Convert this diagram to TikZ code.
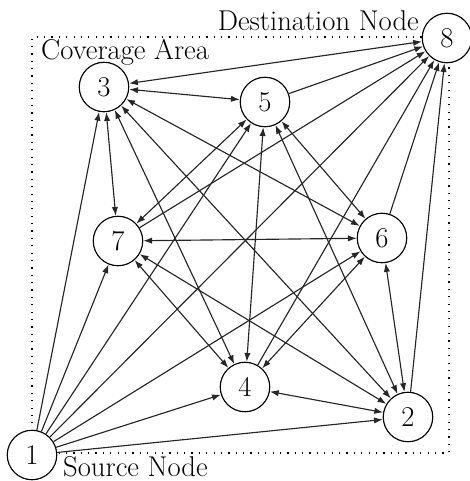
\documentclass[tikz,border=0pt]{standalone}
\usepackage{tikz}
\usetikzlibrary{arrows.meta}
\usetikzlibrary{backgrounds}
\def \NodeSize{0.99cm}
\def \EdgeWidth{0.65pt}

\begin{document}
\begin{tikzpicture}
[x=0.02cm,y=-0.02cm,>={Latex[length=5pt,width=3.6pt]},
 font=\fontsize{16.3pt}{19pt}\selectfont,
 netnode/.style={circle,draw,line width=0.65pt,fill=white,minimum size=\NodeSize,inner sep=0pt},
 link/.style={line width=\EdgeWidth,draw=black!85},
 area/.style={line width=0.7pt,dash pattern=on 0.7pt off 3.5pt}]
	\useasboundingbox (0,0) rectangle (470,481);

	\node[netnode] (n1) at (32,455) {1};
	\node[netnode] (n2) at (408,417) {2};
	\node[netnode] (n3) at (104,87) {3};
	\node[netnode] (n4) at (245,387) {4};
	\node[netnode] (n5) at (265,102) {5};
	\node[netnode] (n6) at (382,238) {6};
	\node[netnode] (n7) at (118,241) {7};
	\node[netnode] (n8) at (447,38) {8};

	% coverage area
	\begin{scope}[on background layer]
		\draw [area] (32,453) rectangle (449,37);
	\end{scope}

	% source reaches every node
	\foreach \t in {2,...,8}
		\draw [link,->] (n1) -- (n\t);
	% every node reaches the destination
	\foreach \s in {2,4,5,6,7}
		\draw [link,->] (n\s) -- (n8);
	\draw [link,<->] (n3) -- (n8);
	% links inside the area
	\foreach \a/\b in {2/3,2/4,2/5,2/6,2/7,3/4,3/5,3/6,3/7,4/5,4/6,4/7,5/6,5/7,6/7}
		\draw [link,<->] (n\a) -- (n\b);

	\node[anchor=base west] (lblarea) at (35,59) {Coverage Area};
	\node[anchor=base east] (lbldest) at (425,30) {Destination Node};
	\node[anchor=base west] (lblsrc) at (57,476) {Source Node};
\end{tikzpicture}
\end{document}
